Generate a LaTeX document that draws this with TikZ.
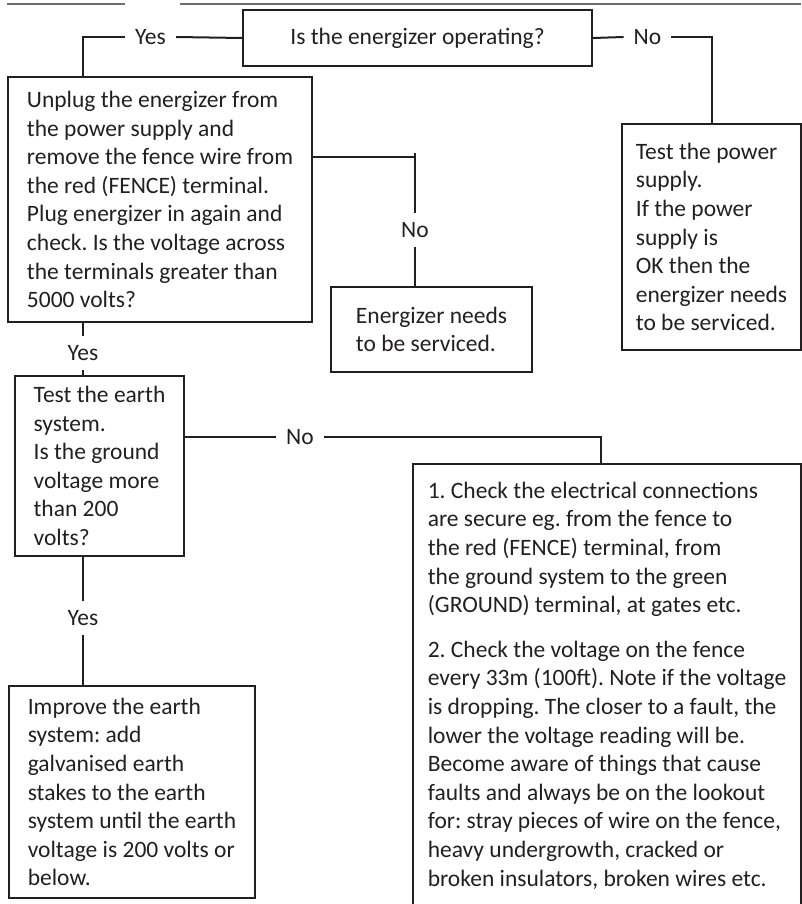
\documentclass[tikz,border=0pt]{standalone}
\usepackage{fontspec}
\setmainfont{Carlito}
\frenchspacing
\definecolor{ink}{HTML}{231F20}
\definecolor{rulegray}{HTML}{6D6E71}

\begin{document}
\begin{tikzpicture}[
    x=1pt, y=-1pt,
    every node/.style={font=\fontsize{23.5}{28.6}\selectfont, text=ink},
    box/.style={draw=ink, line width=2pt, align=left, anchor=north west, inner sep=0pt},
    ans/.style={inner xsep=10pt, inner ysep=9pt},
    link/.style={draw=ink, line width=2pt},
]
\useasboundingbox (0,0) rectangle (801,904);

\draw[rulegray, line width=1.3pt] (7,4) -- (125,4) (180,4) -- (801,4);

\node[box, minimum width=349pt, minimum height=56pt] (operating) at (242,9)
    {Is the energizer operating?};
\node[box, minimum width=304pt, minimum height=245pt] (unplug) at (7,76)
    {Unplug the energizer from\\the power supply and\\remove the fence wire from\\the red (FENCE) terminal.\\Plug energizer in again and\\check. Is the voltage across\\the terminals greater than\\5000 volts?};
\node[box, minimum width=179pt, minimum height=226pt] (power) at (621,123)
    {Test the power\\supply.\\If the power\\supply is\\OK then the\\energizer needs\\to be serviced.};
\node[box, minimum width=201pt, minimum height=85pt] (service) at (330,286)
    {Energizer needs\\to be serviced.};
\node[box, minimum width=169pt, minimum height=180pt] (earth) at (14,375)
    {Test the earth\\system.\\Is the ground\\voltage more\\than 200\\volts?};
\node[box, minimum width=388pt, minimum height=443pt] (checks) at (412,463)
    {1. Check the electrical connections\\are secure eg. from the fence to\\the red (FENCE) terminal, from\\the ground system to the green\\(GROUND) terminal, at gates etc.\\[16pt]2. Check the voltage on the fence\\every 33m (100ft). Note if the voltage\\is dropping. The closer to a fault, the\\lower the voltage reading will be.\\Become aware of things that cause\\faults and always be on the lookout\\for: stray pieces of wire on the fence,\\heavy undergrowth, cracked or\\broken insulators, broken wires etc.};
\node[box, minimum width=246pt, minimum height=212pt] (improve) at (8,685)
    {Improve the earth\\system: add\\galvanised earth\\stakes to the earth\\system until the earth\\voltage is 200 volts or\\below.};

\foreach \name/\txt/\x/\y in {
    yesA/Yes/150.5/37,
    noA/No/647.5/37,
    noB/No/415/230,
    yesB/Yes/83/353,
    noC/No/300/437,
    yesC/Yes/83/618} {
    \node[ans] (\name) at (\x,\y) {\txt};
}

\coordinate (yesBend) at (83,37);
\coordinate (serviceTap) at (415,157);
\coordinate (faultBend) at (601,437);

\draw[link] (operating.west) -- (yesA.east);
\draw[link] (yesA.west) -- (yesBend) -- (yesBend |- unplug.north);
\draw[link] (operating.east) -- (noA.west);
\draw[link] (noA.east) -| (power.north);

\draw[link] (unplug.east |- serviceTap) -- (serviceTap);
\draw[link] ([yshift=4pt]serviceTap) -- (noB.north);
\draw[link] (noB.south) -- (noB.south |- service.north);

\draw[link] (unplug.south -| yesB) -- (yesB.north);
\draw[link] (yesB.south) -- (yesB |- earth.north);

\draw[link] (earth.east |- noC) -- (noC.west);
\draw[link] (noC.east) -- (faultBend) -- (faultBend |- checks.north);

\draw[link] (earth.south -| yesC) -- (yesC.north);
\draw[link] (yesC.south) -- (yesC |- improve.north);
\end{tikzpicture}
\end{document}
